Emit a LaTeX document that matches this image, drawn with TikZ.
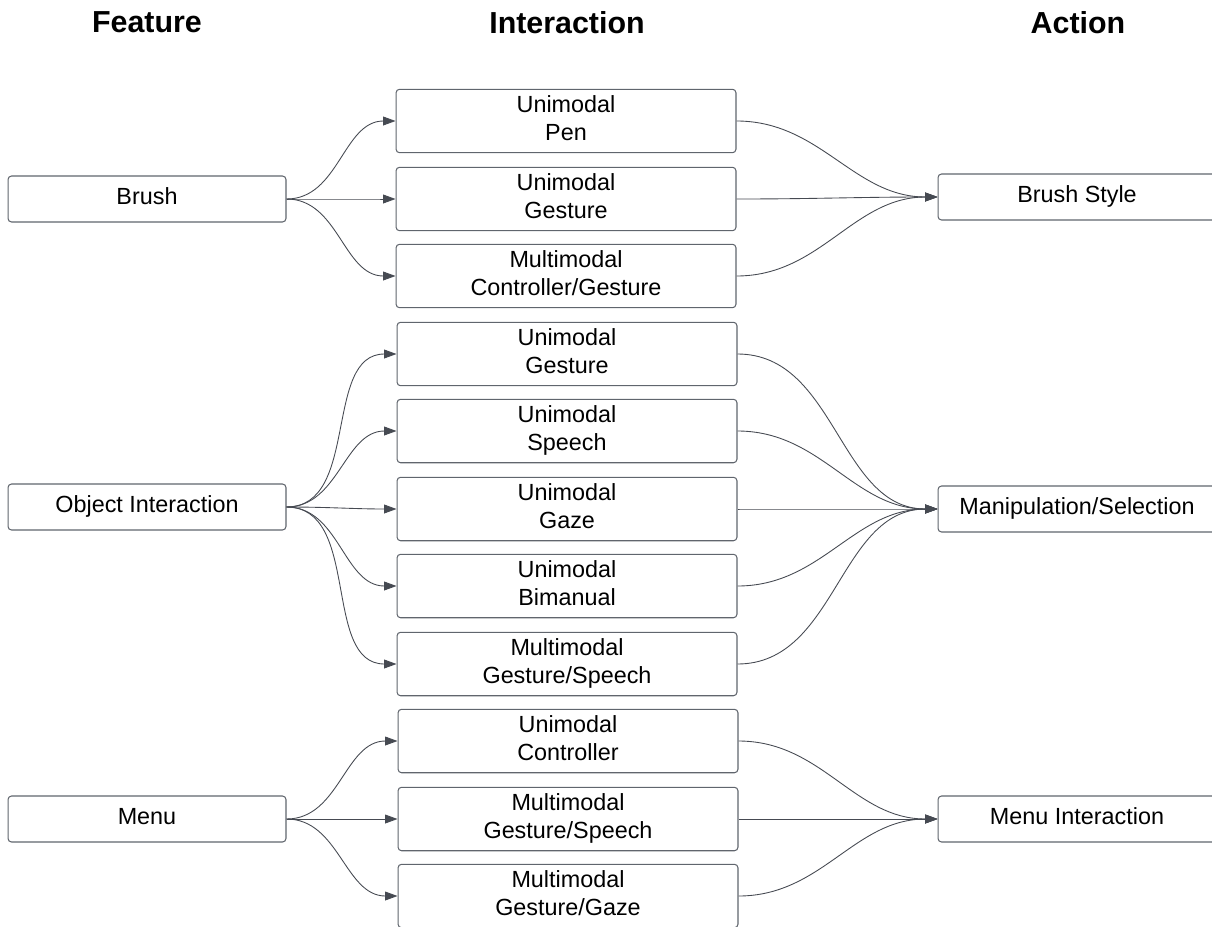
\documentclass[tikz,border=0pt]{standalone}
\usepackage{fontspec}
\setmainfont{Liberation Sans}
\usetikzlibrary{arrows.meta}
\definecolor{edgeclr}{HTML}{464A52}
\definecolor{frameclr}{HTML}{60656D}

\begin{document}
\begin{tikzpicture}[x=0.02cm,y=-0.02cm,
		feat/.style={rectangle,rounded corners=2pt,draw=frameclr,line width=0.6pt,minimum width=5.56cm,minimum height=0.92cm,text height=9.6pt,text depth=3.4pt,font=\fontsize{13.3}{16.4}\selectfont},
		inter/.style={feat,text height=,minimum width=6.8cm,minimum height=1.24cm,align=center},
		head/.style={font=\fontsize{17.3}{20}\selectfont\bfseries},
		link/.style={draw=edgeclr,line width=0.5pt,-{Triangle[length=7pt,width=5pt]},out=0,in=180}]
		\useasboundingbox (0,0) rectangle (1212,926);
		% headings
		\path (147,22) node(hfeat)[head]{Feature}
		(567,23) node(hinter)[head]{Interaction}
		(1078,23) node(haction)[head]{Action};
		% features
		\path (147,199) node(brush)[feat]{Brush}
		(147,507) node(obj)[feat]{Object Interaction}
		(147,819) node(menu)[feat]{Menu};
		% interactions
		\path (566,121) node(pen)[inter]{Unimodal\\Pen}
		(566,199) node(bgest)[inter]{Unimodal\\Gesture}
		(566,276) node(bmulti)[inter]{Multimodal\\Controller/Gesture};
		\path (567,354) node(ogest)[inter]{Unimodal\\Gesture}
		(567,431) node(ospeech)[inter]{Unimodal\\Speech}
		(567,509) node(ogaze)[inter]{Unimodal\\Gaze}
		(567,586) node(obiman)[inter]{Unimodal\\Bimanual}
		(567,664) node(omulti)[inter]{Multimodal\\Gesture/Speech};
		\path (568,741) node(mctrl)[inter]{Unimodal\\Controller}
		(568,819) node(mspeech)[inter]{Multimodal\\Gesture/Speech}
		(568,896) node(mgaze)[inter]{Multimodal\\Gesture/Gaze};
		% actions
		\path (1077,197) node(bstyle)[feat]{Brush Style}
		(1077,509) node(manip)[feat]{Manipulation/Selection}
		(1077,819) node(menuint)[feat]{Menu Interaction};
		% feature to interaction
		\draw [link] (brush.east) to (pen.west);
		\draw [link] (brush.east) to (bgest.west);
		\draw [link] (brush.east) to (bmulti.west);
		\draw [link] (obj.east) to (ogest.west);
		\draw [link] (obj.east) to (ospeech.west);
		\draw [link] (obj.east) to (ogaze.west);
		\draw [link] (obj.east) to (obiman.west);
		\draw [link] (obj.east) to (omulti.west);
		\draw [link] (menu.east) to (mctrl.west);
		\draw [link] (menu.east) to (mspeech.west);
		\draw [link] (menu.east) to (mgaze.west);
		% interaction to action
		\draw [link] (pen.east) to (bstyle.west);
		\draw [link] (bgest.east) to (bstyle.west);
		\draw [link] (bmulti.east) to (bstyle.west);
		\draw [link] (ogest.east) to (manip.west);
		\draw [link] (ospeech.east) to (manip.west);
		\draw [link] (ogaze.east) to (manip.west);
		\draw [link] (obiman.east) to (manip.west);
		\draw [link] (omulti.east) to (manip.west);
		\draw [link] (mctrl.east) to (menuint.west);
		\draw [link] (mspeech.east) to (menuint.west);
		\draw [link] (mgaze.east) to (menuint.west);
	\end{tikzpicture}
\end{document}
